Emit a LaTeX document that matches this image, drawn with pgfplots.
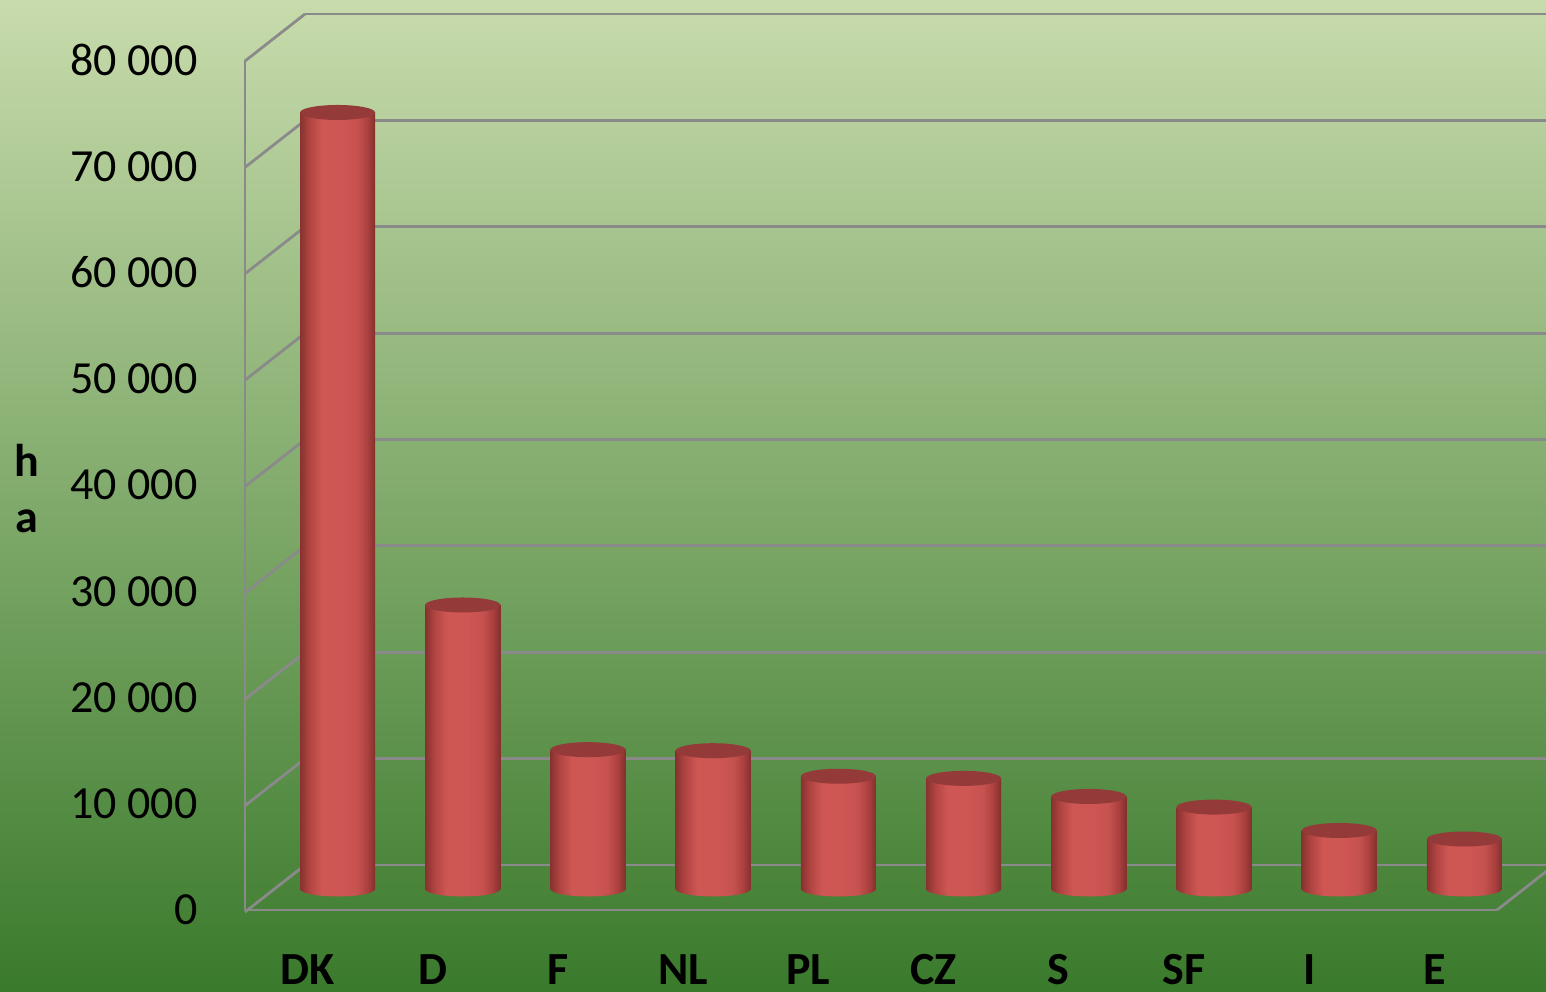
\documentclass[border=0pt]{standalone}
\usepackage{pgfplots}
\pgfplotsset{compat=1.18}
\usepackage{pgfplotstable}
\usepackage{fontspec}
\setmainfont{Carlito}

\definecolor{bgtop}{RGB}{200,219,172}
\definecolor{bgmid}{RGB}{136,176,100}
\definecolor{bgbot}{RGB}{58,122,44}
\definecolor{gridc}{RGB}{138,138,138}
\definecolor{ca}{RGB}{136,50,48}
\definecolor{cb}{RGB}{176,68,65}
\definecolor{cc}{RGB}{206,86,83}
\definecolor{cd}{RGB}{198,82,79}
\definecolor{ce}{RGB}{170,64,62}
\definecolor{cf}{RGB}{130,48,46}
\definecolor{ctop}{RGB}{148,58,56}

\pgfdeclarehorizontalshading{cyl}{100bp}{color(0bp)=(ca); color(25bp)=(ca); color(31bp)=(cb); color(39bp)=(cc); color(53bp)=(cc); color(63bp)=(cd); color(70bp)=(ce); color(75bp)=(cf); color(100bp)=(cf)}

\pgfdeclareplotmark{cylcap}{\pgfpathellipse{\pgfpointorigin}{\pgfqpoint{18.75pt}{0pt}}{\pgfqpoint{0pt}{3.75pt}}\pgfusepathqfill}
\pgfdeclareplotmark{cylbot}{\pgfpathellipse{\pgfpointorigin}{\pgfqpoint{18.75pt}{0pt}}{\pgfqpoint{0pt}{3.75pt}}\pgfshadepath{cyl}{0}\pgfusepath{discard}}

\pgfplotstableread{
x y
0 73000
1 26700
2 13100
3 13000
4 10600
5 10400
6 8700
7 7700
8 5500
9 4700
}\datatable

\begin{document}
\begin{tikzpicture}
\path[use as bounding box] (0,0) rectangle (773pt,495.5pt);
\clip (0,0) rectangle (773pt,495.5pt);
\shade[top color=bgtop, middle color=bgmid, bottom color=bgbot] (0,0) rectangle (773pt,495.5pt);

% back wall with gridlines
\begin{axis}[
  at={(152.5pt,63pt)}, anchor=south west,
  scale only axis, width=626pt, height=425.5pt,
  xmin=-0.5, xmax=9.5, ymin=0, ymax=80000,
  axis line style={draw=none},
  major tick length=0pt,
  xtick=\empty, ytick={0,10000,...,80000}, yticklabels={},
  ymajorgrids, grid style={gridc, line width=1.4pt},
  clip=false,
]
\pgfplotsinvokeforeach{0,10000,20000,30000,40000,50000,60000,70000,80000}{
  \draw[gridc, line width=1.4pt] (axis cs:-0.5,#1) -- ++(-30pt,-23.5pt);
}
\end{axis}

% cylinders (mid depth)
\begin{axis}[
  at={(137.5pt,51pt)}, anchor=south west,
  scale only axis, width=626pt, height=425.5pt,
  xmin=-0.5, xmax=9.5, ymin=0, ymax=80000,
  hide axis, clip=false,
]
\addplot[only marks, mark=cylbot] coordinates {(0,0) (1,0) (2,0) (3,0) (4,0) (5,0) (6,0) (7,0) (8,0) (9,0)};
\pgfplotsinvokeforeach{0,1,2,3,4,5,6,7,8,9}{
  \addplot[ybar, bar width=37.5pt, draw=none, shade, shading=cyl,
    x filter/.expression={x==#1 ? x : nan}] table[x=x, y=y] {\datatable};
}
\addplot[only marks, mark=cylcap, color=ctop] table[x=x, y=y] {\datatable};
\end{axis}

% front frame and labels
\begin{axis}[
  at={(122.5pt,40.5pt)}, anchor=south west,
  scale only axis, width=626pt, height=425pt,
  xmin=-0.5, xmax=9.5, ymin=0, ymax=80000,
  axis x line*=bottom, axis y line*=left,
  axis line style={gridc, line width=1.4pt, -},
  major tick length=0pt,
  ytick={0,10000,...,80000},
  scaled y ticks=false,
  /pgf/number format/1000 sep={\ },
  /pgf/number format/assume math mode=true,
  yticklabel style={font=\fontsize{23}{27}\selectfont, anchor=east, inner sep=0pt, xshift=-23.5pt},
  xtick={0,1,2,3,4,5,6,7,8,9},
  xticklabels={DK,D,F,NL,PL,CZ,S,SF,I,E},
  xticklabel style={font=\fontsize{23}{27}\selectfont\bfseries, anchor=north, inner sep=0pt, yshift=-22pt},
  clip=false,
]
\draw[gridc, line width=1.4pt] (axis cs:9.5,0) -- ++(30pt,23.5pt);
\end{axis}

\node[font=\fontsize{23}{27}\selectfont\bfseries] at (13.5pt,265.5pt) {h};
\node[font=\fontsize{23}{27}\selectfont\bfseries] at (13.5pt,235pt) {a};
\end{tikzpicture}
\end{document}
